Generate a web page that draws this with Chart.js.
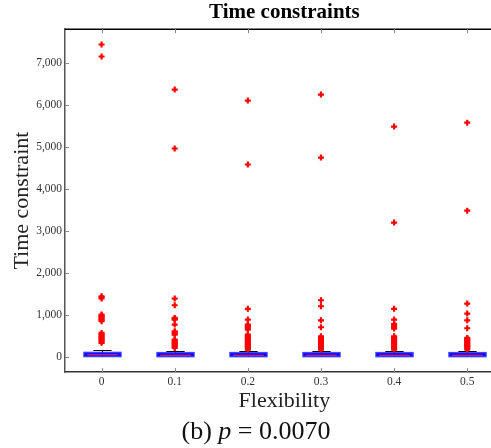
<!DOCTYPE html>
<html>
<head>
<meta charset="utf-8">
<script src="https://cdn.jsdelivr.net/npm/chart.js@4.4.1/dist/chart.umd.min.js"></script>
<style>
  html, body { margin: 0; padding: 0; background: #fff; overflow: hidden; }
  #wrap { position: relative; width: 510px; height: 448px; }
  #caption {
    position: absolute; left: 0; top: 416px; width: 512px; text-align: center;
    font-family: "Liberation Serif", serif; font-size: 26px; color: #111;
  }
</style>
</head>
<body>
<div id="wrap">
  <canvas id="chart" width="510" height="448"></canvas>
  <div id="caption">(b) <i>p</i> = 0.0070</div>
</div>
<script>
// categories (flexibility) and box statistics
const categories = [0, 0.1, 0.2, 0.3, 0.4, 0.5];
const whiskerLow = [0, 0, 0, 0, 0, 0];
const q1 = [14, 12, 12, 12, 12, 12];
const medians = [50, 40, 40, 40, 40, 40];
const q3 = [100, 95, 95, 95, 95, 95];
const whiskerHigh = [166, 143, 143, 143, 133, 133];

// outliers for each category
const outliers0 = [7436, 7150, 1443, 1420, 1390, 1007, 985, 960, 935, 905, 875, 850, 571, 545, 520, 490, 465, 440, 410, 385, 360, 335];
const outliers1 = [6364, 4960, 1388, 1229, 928, 905, 888, 769, 610, 585, 560, 531, 412, 390, 365, 340, 315, 290, 265, 240, 214];
const outliers2 = [6102, 4579, 1143, 888, 769, 745, 720, 690, 650, 531, 505, 480, 455, 430, 405, 380, 355, 330, 305, 280, 255, 230, 200, 174];
const outliers3 = [6245, 4745, 1348, 1205, 871, 705, 490, 465, 440, 415, 390, 365, 340, 315, 290, 265, 240, 215, 190, 174];
const outliers4 = [5483, 3197, 1143, 888, 786, 750, 715, 674, 490, 465, 440, 415, 390, 365, 340, 315, 290, 265, 240, 215, 190, 174];
const outliers5 = [5576, 3481, 1269, 1031, 871, 681, 452, 430, 405, 380, 355, 330, 305, 280, 255, 230, 205, 174];
const outlierLists = [outliers0, outliers1, outliers2, outliers3, outliers4, outliers5];

const yTicks = [0, 1000, 2000, 3000, 4000, 5000, 6000, 7000];
const xTickLabels = ['0', '0.1', '0.2', '0.3', '0.4', '0.5'];

const serif = '"Liberation Serif", serif';

const points = [];
outlierLists.forEach((list, i) => {
  list.forEach(v => points.push({ x: categories[i], y: v }));
});

const boxPlugin = {
  id: 'boxes',
  beforeDatasetsDraw(chart) {
    const { ctx, scales: { x, y } } = chart;
    const boxHalf = x.getPixelForValue(0.025) - x.getPixelForValue(0);
    const capHalf = boxHalf / 2;
    ctx.save();
    categories.forEach((c, i) => {
      const cx = Math.round(x.getPixelForValue(c)) + 0.5;
      const yLo = y.getPixelForValue(whiskerLow[i]);
      const yQ1 = y.getPixelForValue(q1[i]);
      const yMed = y.getPixelForValue(medians[i]);
      const yQ3 = y.getPixelForValue(q3[i]);
      const yHi = y.getPixelForValue(whiskerHigh[i]);
      // whiskers
      ctx.strokeStyle = '#000';
      ctx.lineWidth = 1;
      ctx.beginPath();
      ctx.moveTo(cx, yQ3); ctx.lineTo(cx, yHi);
      ctx.moveTo(cx, yQ1); ctx.lineTo(cx, yLo);
      ctx.moveTo(cx - capHalf, Math.round(yHi) + 0.5); ctx.lineTo(cx + capHalf, Math.round(yHi) + 0.5);
      ctx.stroke();
      // box
      ctx.fillStyle = '#0000ff';
      ctx.strokeStyle = 'rgba(30,30,255,0.8)';
      ctx.lineWidth = 2;
      ctx.fillRect(cx - boxHalf, yQ3, boxHalf * 2, yQ1 - yQ3);
      ctx.strokeRect(cx - boxHalf, yQ3, boxHalf * 2, yQ1 - yQ3);
      // median
      ctx.strokeStyle = '#ff2a55';
      ctx.lineWidth = 1;
      ctx.beginPath();
      ctx.moveTo(cx - boxHalf + 3, yMed); ctx.lineTo(cx + boxHalf - 3, yMed);
      ctx.stroke();
    });
    ctx.restore();
  },
  afterDraw(chart) {
    const { ctx, chartArea: a, scales: { x, y } } = chart;
    ctx.save();
    // top border
    ctx.strokeStyle = '#000';
    ctx.lineWidth = 1.5;
    ctx.beginPath();
    ctx.moveTo(a.left, a.top); ctx.lineTo(a.right, a.top);
    ctx.stroke();
    // inward tick marks
    ctx.strokeStyle = '#888';
    ctx.lineWidth = 1;
    ctx.beginPath();
    yTicks.forEach(v => {
      const py = Math.round(y.getPixelForValue(v)) + 0.5;
      ctx.moveTo(a.left, py); ctx.lineTo(a.left + 4, py);
    });
    categories.forEach(v => {
      const px = Math.round(x.getPixelForValue(v)) + 0.5;
      ctx.moveTo(px, a.bottom); ctx.lineTo(px, a.bottom - 4);
      ctx.moveTo(px, a.top); ctx.lineTo(px, a.top + 4);
    });
    ctx.stroke();
    ctx.restore();
  }
};

new Chart(document.getElementById('chart'), {
  type: 'scatter',
  plugins: [boxPlugin],
  data: {
    datasets: [{
      data: points,
      pointStyle: 'cross',
      radius: 3,
      borderWidth: 2.2,
      borderColor: '#ff0000',
      backgroundColor: '#ff0000'
    }]
  },
  options: {
    responsive: false,
    animation: false,
    layout: { padding: { left: 0, right: 0, top: 0, bottom: 34 } },
    plugins: {
      legend: { display: false },
      tooltip: { enabled: false },
      title: {
        display: true,
        text: 'Time constraints',
        fullSize: false,
        color: '#000',
        font: { family: serif, size: 21, weight: 'bold', lineHeight: 1.2 },
        padding: { top: 0, bottom: 4 }
      }
    },
    scales: {
      x: {
        type: 'linear',
        min: -0.05,
        max: 0.55,
        afterFit(s) { s.height = 42; },
        afterBuildTicks(s) { s.ticks = categories.map(v => ({ value: v })); },
        grid: { display: false, drawTicks: false },
        border: { display: true, color: '#333', width: 1.5 },
        ticks: {
          padding: 3,
          color: '#333',
          font: { family: serif, size: 11.5 },
          callback: (v, i) => xTickLabels[i]
        },
        title: {
          display: true,
          text: 'Flexibility',
          color: '#222',
          font: { family: serif, size: 22 },
          padding: { top: 0, bottom: 0 }
        }
      },
      y: {
        min: -360,
        max: 7800,
        afterFit(s) { s.width = 65; },
        afterBuildTicks(s) { s.ticks = yTicks.map(v => ({ value: v })); },
        grid: { display: false, drawTicks: false },
        border: { display: true, color: '#555', width: 1.5 },
        ticks: {
          padding: 3,
          color: '#333',
          font: { family: serif, size: 11.5 },
          callback: (v) => v.toLocaleString('en-US')
        },
        title: {
          display: true,
          text: 'Time constraint',
          color: '#222',
          font: { family: serif, size: 22 },
          padding: { top: 9, bottom: 0 }
        }
      }
    }
  }
});
</script>
</body>
</html>
